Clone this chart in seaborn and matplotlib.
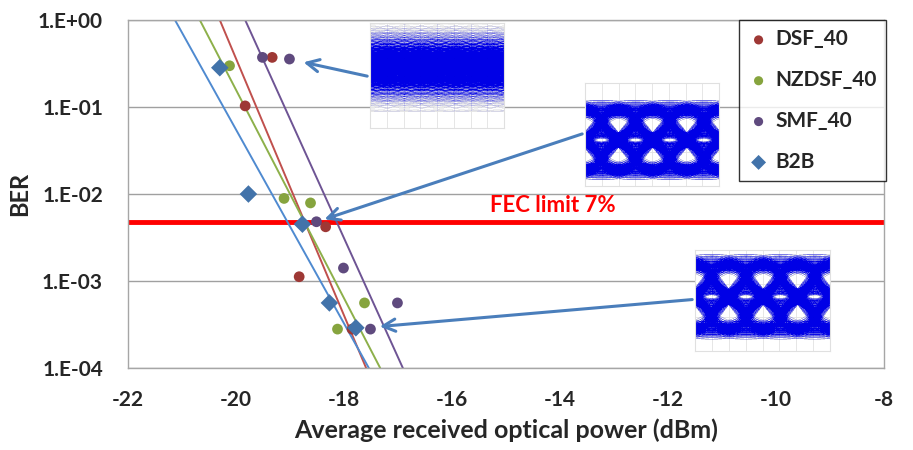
import numpy as np
import matplotlib
matplotlib.use('Agg')
import matplotlib.pyplot as plt
import seaborn as sns
from matplotlib.collections import LineCollection
from itertools import product

# measured points (received power in dBm, BER)
dsf_x = [-19.33, -19.83, -18.34, -18.83, -17.85]
dsf_ber = [0.372, 0.103, 0.0042, 0.00112, 0.00028]
nzdsf_x = [-20.12, -19.11, -18.62, -17.62, -18.12]
nzdsf_ber = [0.298, 0.0089, 0.0079, 0.00056, 0.00028]
smf_x = [-19.51, -19.01, -18.51, -18.01, -17.01, -17.51]
smf_ber = [0.372, 0.356, 0.0048, 0.00141, 0.00056, 0.00028]
b2b_x = [-20.30, -19.77, -18.77, -18.27, -17.78]
b2b_ber = [0.283, 0.0100, 0.0045, 0.00056, 0.00029]

series = ['DSF_40', 'NZDSF_40', 'SMF_40', 'B2B']
xs = [dsf_x, nzdsf_x, smf_x, b2b_x]
bers = [dsf_ber, nzdsf_ber, smf_ber, b2b_ber]

# exponential trend lines: power where the fit crosses BER 1 and BER 1e-4
trend_x_top = [-20.30, -20.67, -19.83, -21.13]
trend_x_bottom = [-17.59, -17.33, -16.91, -17.54]
trend_ber = [1.0, 1e-4]

fec_limit = 0.0048

dot_colors = ['#9E3835', '#86A43E', '#5F4A7E', '#4273AA']
line_colors = ['#C0504D', '#8DB04A', '#6E5494', '#4F8AD0']
markers = ['o', 'o', 'o', 'D']
sizes = [60, 60, 60, 80]

sns.set_style('white')
plt.rcParams['font.family'] = 'Lato'

fig = plt.figure(figsize=(9.13, 4.5), dpi=100)
ax = fig.add_axes([0.1402, 0.1822, 0.828, 0.7733])
ax.set_yscale('log')

for i, name in enumerate(series):
    sns.lineplot(x=[trend_x_top[i], trend_x_bottom[i]], y=trend_ber, color=line_colors[i],
                 lw=1.4, ax=ax, legend=False, zorder=2)
for i, name in enumerate(series):
    sns.scatterplot(x=xs[i], y=bers[i], marker=markers[i], s=sizes[i], color=dot_colors[i],
                    edgecolor='none', label=name, ax=ax, zorder=3)

ax.axhline(fec_limit, color='#FF0000', lw=3.5, zorder=1)
ax.text(-14.14, 0.0074, 'FEC limit 7%', color='#FF0000', fontsize=16, weight='bold',
        ha='center', va='center')

ax.set_xlim(-22, -8)
ax.set_ylim(1e-4, 1)
ax.set_xticks(range(-22, -7, 2))
ax.set_xticklabels([str(v) for v in range(-22, -7, 2)])
ax.set_yticks([1, 1e-1, 1e-2, 1e-3, 1e-4])
ax.set_yticklabels(['1.E+00', '1.E-01', '1.E-02', '1.E-03', '1.E-04'])
ax.yaxis.set_minor_locator(matplotlib.ticker.NullLocator())
ax.tick_params(axis='x', direction='in', length=6, color='#A6A6A6', pad=16, labelsize=15)
ax.tick_params(axis='y', length=0, pad=18, labelsize=15)
for lab in ax.get_xticklabels() + ax.get_yticklabels():
    lab.set_fontweight('bold')
ax.yaxis.grid(True, color='#A0A0A0', lw=1)
ax.xaxis.grid(False)
for sp in ax.spines.values():
    sp.set_color('#A6A6A6')
    sp.set_linewidth(1)

ax.set_xlabel('Average received optical power (dBm)', fontsize=18, weight='bold')
ax.set_ylabel('BER', fontsize=17, weight='bold')
ax.xaxis.set_label_coords(0.5, -0.145)
ax.yaxis.set_label_coords(-0.128, 0.5)

leg = ax.legend(loc='upper right', bbox_to_anchor=(886 / 913, 1 - 20 / 450),
                bbox_transform=fig.transFigure, frameon=True, fancybox=False,
                prop=dict(weight='bold', size=15), labelspacing=1.0, handletextpad=0.3,
                handlelength=1.0, borderpad=0.45, borderaxespad=0, markerscale=0.85)
leg.get_frame().set_edgecolor('black')
leg.get_frame().set_linewidth(1)

# arrows from the eye diagrams
arrow_kw = dict(arrowstyle='->', color='#4A7EBB', lw=2.2, mutation_scale=22)
ax.annotate('', xy=(-18.80, 0.332), xytext=(-17.52, 0.223), arrowprops=arrow_kw)
ax.annotate('', xy=(-18.41, 0.00502), xytext=(-13.54, 0.0502), arrowprops=arrow_kw)
ax.annotate('', xy=(-17.39, 0.000298), xytext=(-11.5, 0.000616), arrowprops=arrow_kw)


# eye diagram insets (pictures, not chart data)
def eye_inset(rect, width, centers, spread, xlim, ylim, alpha):
    iax = fig.add_axes(rect)
    t = np.linspace(xlim[0], xlim[1], 110)
    half = width / 2

    def pulse(u):
        return np.where(np.abs(u) < half, np.cos(np.pi * u / width) ** 2, 0.0) / half

    segs = []
    for seq in product((-1, 1), repeat=len(centers)):
        for sc, off, dt in spread:
            base = sum(b * pulse(t - c - dt) for c, b in zip(centers, seq))
            segs.append(np.column_stack([t, base * sc + off]))
    iax.add_collection(LineCollection(segs, colors='#0000E6', linewidths=0.4, alpha=alpha))
    iax.set_xlim(*xlim)
    iax.set_ylim(*ylim)
    iax.set_xticks(np.linspace(xlim[0], xlim[1], 9))
    iax.set_yticks(np.linspace(ylim[0], ylim[1], 7))
    iax.grid(True, color='#E2E2E2', lw=0.6)
    iax.tick_params(length=0, labelbottom=False, labelleft=False)
    for sp in iax.spines.values():
        sp.set_color('#E0E0E0')
    iax.set_facecolor('white')
    return iax


open_spread = [(sc, off, dt) for sc in (0.88, 0.95, 1.02, 1.09)
               for off in (-0.15, -0.1, -0.05, 0.0, 0.05, 0.1, 0.15)
               for dt in (-0.06, 0.06)]
closed_spread = [(sc, off, dt) for sc in (0.75, 0.95, 1.15, 1.35)
                 for off in (-0.27, -0.13, 0.0, 0.13, 0.27)
                 for dt in (-0.2, 0.2)]

eye_inset([370 / 913, 1 - 128 / 450, 134 / 913, 105 / 450], 5.5,
          [k + 0.5 for k in range(-3, 6)], closed_spread, (0.0, 3.9), (-2.25, 1.62), 0.008)
eye_inset([585 / 913, 1 - 186 / 450, 134 / 913, 103 / 450], 3.2,
          [k + 0.5 for k in range(-2, 6)], open_spread, (0.02, 3.94), (-1.45, 1.8), 0.012)
eye_inset([695 / 913, 1 - 351 / 450, 135 / 913, 101 / 450], 3.2,
          [k + 0.5 for k in range(-2, 6)], open_spread, (0.02, 3.94), (-1.6, 1.38), 0.012)

fig.savefig('out.png', dpi=100)
